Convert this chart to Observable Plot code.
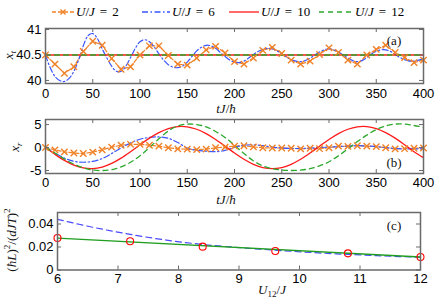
<!DOCTYPE html>
<html><head><meta charset="utf-8">
<script src="https://cdn.jsdelivr.net/npm/d3@7"></script>
<script src="https://cdn.jsdelivr.net/npm/@observablehq/plot@0.6"></script>
<style>
body{margin:0;background:#fff;}
#root{position:relative;width:436px;height:299px;overflow:hidden;background:#fff;}
#root svg.pl{position:absolute;left:0;top:0;}
.lab{position:absolute;font-family:"Liberation Serif","Times New Roman",serif;font-size:13px;white-space:nowrap;color:#111;line-height:1;}
.rot{transform:translate(-50%,-50%) rotate(-90deg);}
.ctr{transform:translate(-50%,-50%);}
.leg{position:absolute;top:4px;height:16px;display:flex;align-items:center;font-family:"Liberation Serif","Times New Roman",serif;font-size:13px;white-space:nowrap;}
.leg svg{margin-right:2px;}
sub,sup{font-size:70%;line-height:0;}
</style></head><body><div id="root"></div>
<script>
// ---------- data ----------
const tGrid = [0,10,20,30,40,50,60,70,80,90,100,110,120,130,140,150,160,170,180,190,200,210,220,230,240,250,260,270,280,290,300,310,320,330,340,350,360,370,380,390,400];
const tFine = [0,5,10,15,20,25,30,35,40,45,50,55,60,65,70,75,80,85,90,95,100,105,110,115,120,125,130,135,140,145,150,155,160,165,170,175,180,185,190,195,200,205,210,215,220,225,230,235,240,245,250,255,260,265,270,275,280,285,290,295,300,305,310,315,320,325,330,335,340,345,350,355,360,365,370,375,380,385,390,395,400];
const tEnds = [0,400];

// panel (a): x_t
const xtU2 = [40.5,40.32,40.14,40.27,40.57,40.77,40.69,40.43,40.22,40.27,40.5,40.68,40.68,40.49,40.32,40.3,40.44,40.6,40.67,40.54,40.37,40.32,40.44,40.59,40.65,40.53,40.4,40.32,40.38,40.51,40.64,40.55,40.4,40.32,40.5,40.61,40.69,40.55,40.45,40.35,40.4];
const xtU6 = [40.5,40.25,40.08,40.0,39.98,40.04,40.18,40.4,40.68,40.88,40.92,40.82,40.62,40.44,40.28,40.18,40.18,40.28,40.45,40.63,40.76,40.8,40.76,40.66,40.52,40.4,40.31,40.26,40.25,40.28,40.36,40.47,40.58,40.65,40.69,40.68,40.63,40.55,40.47,40.4,40.36,40.35,40.38,40.44,40.51,40.57,40.61,40.63,40.62,40.58,40.52,40.46,40.41,40.38,40.37,40.39,40.44,40.5,40.56,40.6,40.62,40.6,40.56,40.5,40.44,40.39,40.37,40.39,40.45,40.52,40.57,40.6,40.6,40.57,40.51,40.45,40.41,40.38,40.38,40.4,40.43];
const xtU10 = [40.5,40.5];
const xtU12 = [40.5,40.5];

// panel (b): x_r
const xrU2 = [0,-0.5,-0.95,-1.2,-1.3,-1.0,-0.5,0.1,0.5,0.7,0.7,0.5,0.3,-0.05,-0.3,-0.35,-0.45,-0.35,-0.05,0.1,0.3,0.4,0.15,-0.05,-0.1,-0.1,-0.15,-0.3,-0.15,-0.25,-0.05,0.3,0.25,0.4,0.3,0.2,-0.05,-0.3,-0.25,-0.15,-0.1];
const xrU6 = [0,-1.2,-2.3,-3.0,-3.2,-3.0,-2.4,-1.3,-0.1,1.0,1.8,2.2,2.3,2.0,1.1,-0.1,-0.6,-0.8,-0.9,-0.6,0,0.5,0.6,0.4,0.1,-0.1,-0.2,-0.2,-0.1,0,0.1,0.2,0.35,0.4,0.35,0.2,0,-0.2,-0.3,-0.3,-0.3];
const xrU10 = [0,-1.48,-2.8,-3.82,-4.44,-4.59,-4.25,-3.46,-2.3,-0.9,0.6,2.04,3.25,4.13,4.56,4.51,3.98,3.03,1.76,0.3,-1.19,-2.56,-3.65,-4.36,-4.6,-4.36,-3.65,-2.56,-1.19,0.3,1.76,3.03,3.98,4.51,4.56,4.13,3.25,2.04,0.6,-0.9,-2.2];
const xrU12 = [0,-1.2,-2.5,-3.6,-4.4,-4.9,-5.0,-4.8,-4.2,-3.2,-1.8,0,1.9,3.6,4.7,5.1,5.0,4.5,3.5,2.2,0.5,-1.3,-2.9,-4.0,-4.6,-4.9,-5.0,-4.9,-4.6,-4.0,-3.1,-1.8,-0.3,1.3,2.7,3.9,4.7,5.1,5.1,4.8,4.4];

// panel (c)
const uBlue = [6,6.6,7.2,7.8,8.4,9,9.6,10.2,10.8,11.4,12];
const vBlue = [0.044,0.037,0.031,0.026,0.0222,0.0195,0.0172,0.0152,0.0136,0.0122,0.011];
const uGreen = [6,12];
const vGreen = [0.0277,0.0113];
const uRed = [6,7.2,8.4,9.6,10.8,12];
const vRed = [0.0278,0.025,0.0203,0.0165,0.0145,0.0113];

// ticks
const tTicks = [0,50,100,150,200,250,300,350,400];
const aTicksY = [40,40.5,41];
const bTicksY = [-5,0,5];
const cTicksX = [6,7,8,9,10,11,12];
const cTicksY = [0,0.02,0.04];

// ---------- styles ----------
const cOrange = "#f08228", cBlue = "#3a55ff", cRed = "#ff1a1a", cGreen = "#2ca82c";
const W = 436, H = 299;

function tab(xs, ys){ return xs.map((x,i)=>({x, y: ys[i]})); }

function panel({xDomain, yDomain, mt, mb, ml, mr, xt, yt, marks, xPad, yPad}) {
  const iw = W - ml - mr, ih = H - mt - mb, len = 4, fc = "#6a6a6a";
  const svg = Plot.plot({
    width: W, height: H, marginTop: mt, marginBottom: mb, marginLeft: ml, marginRight: mr,
    x: {domain: xDomain}, y: {domain: yDomain},
    style: {background: "transparent", overflow: "visible", fontFamily: "'Liberation Sans', Arial, sans-serif", fontSize: "13px", color: "#000"},
    marks: [
      ...marks,
      Plot.tickX(xt, {x: d => d, insetTop: ih - len, stroke: fc}),
      Plot.tickX(xt, {x: d => d, insetBottom: ih - len, stroke: fc}),
      Plot.tickY(yt, {y: d => d, insetRight: iw - len, stroke: fc}),
      Plot.tickY(yt, {y: d => d, insetLeft: iw - len, stroke: fc}),
      Plot.frame({stroke: fc, strokeWidth: 1.5}),
      Plot.axisX({ticks: xt, tickSize: 0, tickPadding: xPad, tickFormat: d => String(d), label: null, fill: "#000"}),
      Plot.axisY({ticks: yt, tickSize: 0, tickPadding: yPad, tickFormat: d => String(d), label: null, fill: "#000"})
    ]
  });
  svg.classList.add("pl");
  return svg;
}

const root = document.getElementById("root");

// (a)
root.appendChild(panel({
  xDomain: [0,400], yDomain: [39.94,41.02], mt: 28, mb: H - 83, ml: 45, mr: 13,
  xt: tTicks, yt: aTicksY, xPad: 5, yPad: 4,
  marks: [
    Plot.line(tab(tGrid, xtU2), {x: "x", y: "y", stroke: cOrange, strokeWidth: 1.2, strokeDasharray: "4,2"}),
    Plot.line(tab(tFine, xtU6), {x: "x", y: "y", stroke: cBlue, strokeWidth: 1.2, strokeDasharray: "6,2.5,1.5,2.5", curve: "catmull-rom"}),
    Plot.line(tab(tEnds, xtU10), {x: "x", y: "y", stroke: cRed, strokeWidth: 1.5}),
    Plot.line(tab(tEnds, xtU12), {x: "x", y: "y", stroke: cGreen, strokeWidth: 1.5, strokeDasharray: "5,4"}),
    Plot.dot(tab(tGrid, xtU2), {x: "x", y: "y", symbol: "times", r: 3, stroke: cOrange, strokeWidth: 1.4})
  ]
}));

// (b)
root.appendChild(panel({
  xDomain: [0,400], yDomain: [-5.65,6.1], mt: 119, mb: H - 173, ml: 45, mr: 13,
  xt: tTicks, yt: bTicksY, xPad: 4, yPad: 4,
  marks: [
    Plot.line(tab(tGrid, xrU2), {x: "x", y: "y", stroke: cOrange, strokeWidth: 1.2, strokeDasharray: "4,2"}),
    Plot.line(tab(tGrid, xrU6), {x: "x", y: "y", stroke: cBlue, strokeWidth: 1.2, strokeDasharray: "6,2.5,1.5,2.5", curve: "catmull-rom"}),
    Plot.line(tab(tGrid, xrU10), {x: "x", y: "y", stroke: cRed, strokeWidth: 1.3, curve: "catmull-rom"}),
    Plot.line(tab(tGrid, xrU12), {x: "x", y: "y", stroke: cGreen, strokeWidth: 1.3, strokeDasharray: "5,4", curve: "catmull-rom"}),
    Plot.dot(tab(tGrid, xrU2), {x: "x", y: "y", symbol: "times", r: 3, stroke: cOrange, strokeWidth: 1.4})
  ]
}));

// (c)
root.appendChild(panel({
  xDomain: [6,12], yDomain: [0,0.05], mt: 212, mb: H - 269.5, ml: 57, mr: 16,
  xt: cTicksX, yt: cTicksY, xPad: 4, yPad: 4,
  marks: [
    Plot.line(tab(uBlue, vBlue), {x: "x", y: "y", stroke: "#4a4aff", strokeWidth: 1.2, strokeDasharray: "6,4", curve: "catmull-rom"}),
    Plot.line(tab(uGreen, vGreen), {x: "x", y: "y", stroke: "#1f9e1f", strokeWidth: 1.3}),
    Plot.dot(tab(uRed, vRed), {x: "x", y: "y", r: 3.5, stroke: "#ff0000", fill: "none", strokeWidth: 1.1})
  ]
}));

// ---------- text labels ----------
function addLab(html, x, y, cls) {
  const d = document.createElement("div");
  d.className = "lab " + cls;
  d.style.left = x + "px"; d.style.top = y + "px";
  d.innerHTML = html;
  root.appendChild(d);
}
addLab("<i>x</i><sub><i>t</i></sub>", 8, 55, "rot");
addLab("<i>x</i><sub><i>r</i></sub>", 14, 147, "rot");
addLab("(<i>ħL</i>)<sup>2</sup>/(<i>dJT</i>)<sup>2</sup>", 11, 240, "rot");
addLab("<i>tJ</i>/<i>ħ</i>", 226, 108, "ctr");
addLab("<i>tJ</i>/<i>ħ</i>", 226, 199, "ctr");
addLab("<i>U</i><sub>12</sub>/<i>J</i>", 272, 289, "ctr");
addLab("(a)", 394, 40, "ctr");
addLab("(b)", 394, 162, "ctr");
addLab("(c)", 394, 225, "ctr");

// ---------- legend ----------
const legendItems = [
  {label: "2", left: 52, w: 22, color: cOrange, dash: "4,2", marker: true},
  {label: "6", left: 142, w: 28, color: cBlue, dash: "6,2.5,1.5,2.5", marker: false},
  {label: "10", left: 229, w: 30, color: cRed, dash: null, marker: false},
  {label: "12", left: 319, w: 34, color: cGreen, dash: "5,4", marker: false}
];
for (const it of legendItems) {
  const d = document.createElement("div");
  d.className = "leg";
  d.style.left = it.left + "px";
  const cx = it.w / 2;
  d.innerHTML = `<svg width="${it.w}" height="10"><line x1="0" y1="5" x2="${it.w}" y2="5" stroke="${it.color}" stroke-width="1.3" ${it.dash ? `stroke-dasharray="${it.dash}"` : ""}/>` +
    (it.marker ? `<path d="M${cx-2.5},2.5L${cx+2.5},7.5M${cx+2.5},2.5L${cx-2.5},7.5" stroke="${it.color}" stroke-width="1.4"/>` : "") +
    `</svg><span><i>U</i>/<i>J</i><span style="margin:0 5px">=</span>${it.label}</span>`;
  root.appendChild(d);
}
</script></body></html>
